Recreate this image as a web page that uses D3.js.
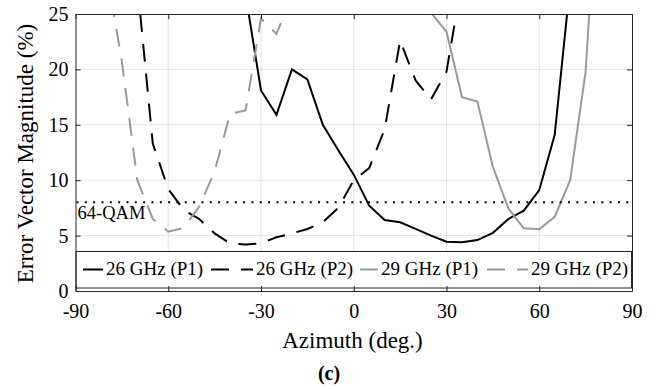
<!DOCTYPE html>
<meta charset="utf-8">
<script src="https://cdn.jsdelivr.net/npm/d3@7"></script>
<style>
  body { margin: 0; background: white; }
  svg text { font-family: "Liberation Serif", "Times New Roman", "DejaVu Serif", serif; fill: #000; }
  .grid line { stroke: #e3e3e3; stroke-width: 1px; }
  .axis path, .axis line { stroke: #262626; }
  .axis text { font-size: 20px; fill: #000; }
</style>
<body>
<div id="chart"></div>
<script>
// azimuth (deg) and EVM (%) per series
var az26P1 = [-35, -30, -25, -20, -15, -10, -5, 0, 5, 10, 15, 20, 25, 30, 35, 40, 45, 50, 55, 60, 65, 70]
var evm26P1 = [26.8, 18.1, 15.9, 20.0, 19.1, 15.0, 12.7, 10.5, 7.7, 6.4, 6.2, 5.6, 5.0, 4.45, 4.4, 4.6, 5.25, 6.5, 7.25, 9.1, 14.1, 27.7]

var az26P2 = [-70, -65, -60, -55, -50, -45, -40, -35, -30, -25, -20, -15, -10, -5, 0, 5, 10, 15, 20, 25, 30, 35]
var evm26P2 = [27.7, 13.3, 9.2, 7.3, 6.5, 5.2, 4.3, 4.2, 4.3, 4.85, 5.2, 5.6, 6.2, 7.5, 10.0, 11.1, 14.6, 22.6, 19.0, 17.3, 19.8, 28]

var az29P1 = [20, 25, 30, 35, 40, 45, 50, 55, 60, 65, 70, 75, 80]
var evm29P1 = [30, 25.1, 23.4, 17.5, 17.1, 11.2, 7.46, 5.66, 5.57, 6.7, 10.0, 19.8, 42]

var az29P2 = [-80, -75, -70, -65, -60, -55, -50, -45, -40, -35, -30, -25, -20]
var evm29P2 = [29, 20.7, 10.0, 6.5, 5.35, 5.7, 7.6, 10.8, 16.0, 16.3, 24.6, 23.2, 26.6]

var seriesNames = ["26 GHz (P1)", "26 GHz (P2)", "29 GHz (P1)", "29 GHz (P2)"]
var seriesColors = ["#000000", "#000000", "#999999", "#999999"]
var seriesDashed = [false, true, false, true]

var xTicks = [-90, -60, -30, 0, 30, 60, 90]
var yTicks = [0, 5, 10, 15, 20, 25]
var qamLevel = 8

var xs = [az26P1, az26P2, az29P1, az29P2]
var ys = [evm26P1, evm26P2, evm29P1, evm29P2]
var series = seriesNames.map(function(n, i){
  return {name: n, color: seriesColors[i], dashed: seriesDashed[i],
          values: xs[i].map(function(a, j){ return {az: a, evm: ys[i][j]} })}
})

var width = 660, height = 389
var plot = {left: 75.5, right: 632, top: 14, bottom: 291}
var dash = "18,12"
var serif = '"Liberation Serif", "Times New Roman", "DejaVu Serif", serif'

var svg = d3.select("#chart").append("svg")
    .attr("width", width)
    .attr("height", height)

var x = d3.scaleLinear().domain([-90, 90]).range([plot.left, plot.right])
var y = d3.scaleLinear().domain([0, 25]).range([plot.bottom, plot.top])

svg.append("clipPath").attr("id", "clip")
  .append("rect")
    .attr("x", plot.left).attr("y", plot.top)
    .attr("width", plot.right - plot.left).attr("height", plot.bottom - plot.top)

// grid
var grid = svg.append("g").attr("class", "grid")
grid.selectAll(".gx").data(xTicks.slice(1, -1)).enter().append("line")
    .attr("x1", d => x(d)).attr("x2", d => x(d))
    .attr("y1", plot.top).attr("y2", plot.bottom)
grid.selectAll(".gy").data(yTicks.slice(1, -1)).enter().append("line")
    .attr("x1", plot.left).attr("x2", plot.right)
    .attr("y1", d => y(d)).attr("y2", d => y(d))

// curves
var line = d3.line()
    .x(function(d){ return x(d.az) })
    .y(function(d){ return y(d.evm) })

svg.append("g").attr("clip-path", "url(#clip)")
  .selectAll("path").data(series).enter().append("path")
    .attr("d", d => line(d.values))
    .attr("fill", "none")
    .attr("stroke", d => d.color)
    .attr("stroke-width", 2)
    .attr("stroke-dasharray", d => d.dashed ? dash : null)
    .attr("stroke-linejoin", "miter")

// 64-QAM threshold
svg.append("line")
    .attr("x1", x(-90)).attr("x2", x(90))
    .attr("y1", y(qamLevel)).attr("y2", y(qamLevel))
    .attr("stroke", "#000")
    .attr("stroke-width", 2)
    .attr("stroke-dasharray", "2,6.33")
    .attr("stroke-dashoffset", -1)

svg.append("text")
    .attr("x", plot.left + 2)
    .attr("y", 219)
    .style("font-size", "18.5px")
    .text("64-QAM")

// legend
var legendX = [83, 211, 360, 487]
var legendLen = [20, 42, 18, 41]
var legend = svg.append("g")
legend.append("rect")
    .attr("x", plot.left + 0.5).attr("y", 251.5)
    .attr("width", plot.right - plot.left - 1).attr("height", 36.5)
    .attr("fill", "white")
    .attr("stroke", "#262626")
    .attr("stroke-width", 1)
var items = legend.selectAll(".item").data(series).enter().append("g")
items.append("line")
    .attr("x1", (d, i) => legendX[i]).attr("x2", (d, i) => legendX[i] + legendLen[i])
    .attr("y1", 269.5).attr("y2", 269.5)
    .attr("stroke", d => d.color)
    .attr("stroke-width", 2)
    .attr("stroke-dasharray", d => d.dashed ? dash : null)
items.append("text")
    .attr("x", (d, i) => legendX[i] + legendLen[i] + 3)
    .attr("y", 275)
    .style("font-size", "19px")
    .text(d => d.name)

// axes
var fmt = function(d){ return String(d) }
var xAxis = d3.axisBottom(x).tickValues(xTicks).tickSizeInner(-5).tickSizeOuter(0).tickPadding(13).tickFormat(fmt)
var xAxisTop = d3.axisTop(x).tickValues(xTicks).tickSizeInner(-5).tickSizeOuter(0).tickFormat("")
var yAxis = d3.axisLeft(y).tickValues(yTicks).tickSizeInner(-5).tickSizeOuter(0).tickPadding(7).tickFormat(fmt)
var yAxisRight = d3.axisRight(y).tickValues(yTicks).tickSizeInner(-5).tickSizeOuter(0).tickFormat("")

svg.append("g").attr("class", "axis").attr("transform", "translate(0," + plot.bottom + ")").call(xAxis)
svg.append("g").attr("class", "axis").attr("transform", "translate(0," + plot.top + ")").call(xAxisTop)
svg.append("g").attr("class", "axis").attr("transform", "translate(" + plot.left + ",0)").call(yAxis)
svg.append("g").attr("class", "axis").attr("transform", "translate(" + plot.right + ",0)").call(yAxisRight)
svg.selectAll(".axis").attr("font-family", serif).attr("font-size", null)

// titles
svg.append("text")
    .attr("x", 352.5).attr("y", 348)
    .attr("text-anchor", "middle")
    .style("font-size", "23px")
    .text("Azimuth (deg.)")

svg.append("text")
    .attr("transform", "translate(33," + ((plot.top + plot.bottom) / 2 + 1) + ") rotate(-90)")
    .attr("text-anchor", "middle")
    .style("font-size", "23px")
    .text("Error Vector Magnitude (%)")

svg.append("text")
    .attr("x", 329).attr("y", 380)
    .attr("text-anchor", "middle")
    .style("font-size", "20px")
    .style("font-weight", "bold")
    .text("(c)")

svg.selectAll("text").attr("font-family", serif)
</script>
</body>
</html>
